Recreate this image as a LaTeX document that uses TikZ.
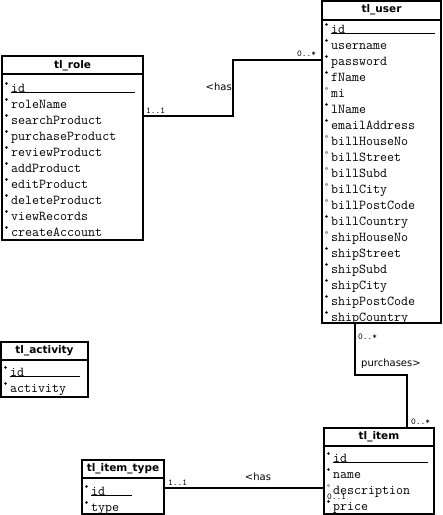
\documentclass[tikz,border=0pt]{standalone}
\usepackage{fontspec}
\setmainfont{DejaVu Sans}
\setmonofont{Latin Modern Mono}
\usetikzlibrary{calc}
\tikzset{
  tbl/.style={draw, line width=1.6pt, anchor=north west, inner sep=0pt, outer sep=0pt},
  ttl/.style={font=\bfseries\fontsize{10.5}{12}\selectfont, inner sep=0pt},
  hdr/.style={line width=1.6pt},
  attr/.style={font=\ttfamily\fontsize{13.6}{15}\selectfont, anchor=base west, inner sep=0pt},
  uline/.style={line width=0.8pt},
  conn/.style={line width=1.6pt},
  mult/.style={font=\ttfamily\fontsize{9}{10}\selectfont, anchor=base west, inner sep=0pt},
  rel/.style={font=\fontsize{10}{12}\selectfont, inner sep=0pt},
  req/.style={fill=black, draw=none},
  opt/.style={draw=gray, line width=0.5pt, fill=white},
}
% #1 name, #2 x (box left), #3 baseline y, #4 text, #5 req/opt
\newcommand\attrrow[5]{%
  \node[attr] (#1) at (#2+9,#3) {#4};
  \path[#5] (#2+4.5,#3-8.5) circle[radius=1.3pt];
}
\begin{document}
\begin{tikzpicture}[x=1pt,y=-1pt]
\useasboundingbox (0,0) rectangle (443,515);

% ---------- tl_role ----------
\node[tbl, minimum width=141pt, minimum height=184pt] (role) at (2,56) {};
\node[ttl] (roleT) at (72.5,65.5) {tl\_role};
\draw[hdr] (role.west |- 0,74) -- (role.east |- 0,74);
\attrrow{r1}{2}{92}{id}{req}
\draw[uline] (10.5,92.5) -- (135,92.5);
\attrrow{r2}{2}{108}{roleName}{req}
\attrrow{r3}{2}{124}{searchProduct}{req}
\attrrow{r4}{2}{140}{purchaseProduct}{req}
\attrrow{r5}{2}{156}{reviewProduct}{req}
\attrrow{r6}{2}{172}{addProduct}{req}
\attrrow{r7}{2}{188}{editProduct}{req}
\attrrow{r8}{2}{204}{deleteProduct}{req}
\attrrow{r9}{2}{220}{viewRecords}{req}
\attrrow{r10}{2}{236}{createAccount}{req}

% ---------- tl_user ----------
\node[tbl, minimum width=119pt, minimum height=322pt] (user) at (322,1) {};
\node[ttl] (userT) at (381.5,10) {tl\_user};
\draw[hdr] (user.west |- 0,20) -- (user.east |- 0,20);
\attrrow{u1}{322}{33}{id}{req}
\draw[uline] (331,33.5) -- (435,33.5);
\attrrow{u2}{322}{49}{username}{req}
\attrrow{u3}{322}{65}{password}{req}
\attrrow{u4}{322}{81}{fName}{req}
\attrrow{u5}{322}{97}{mi}{opt}
\attrrow{u6}{322}{113}{lName}{req}
\attrrow{u7}{322}{129}{emailAddress}{req}
\attrrow{u8}{322}{145}{billHouseNo}{opt}
\attrrow{u9}{322}{161}{billStreet}{opt}
\attrrow{u10}{322}{177}{billSubd}{opt}
\attrrow{u11}{322}{193}{billCity}{opt}
\attrrow{u12}{322}{209}{billPostCode}{opt}
\attrrow{u13}{322}{225}{billCountry}{req}
\attrrow{u14}{322}{241}{shipHouseNo}{opt}
\attrrow{u15}{322}{257}{shipStreet}{req}
\attrrow{u16}{322}{273}{shipSubd}{req}
\attrrow{u17}{322}{289}{shipCity}{req}
\attrrow{u18}{322}{305}{shipPostCode}{req}
\attrrow{u19}{322}{321}{shipCountry}{req}

% ---------- tl_activity ----------
\node[tbl, minimum width=87pt, minimum height=55pt] (act) at (1,342) {};
\node[ttl] (actT) at (44.5,351) {tl\_activity};
\draw[hdr] (act.west |- 0,360) -- (act.east |- 0,360);
\attrrow{a1}{1}{376}{id}{req}
\draw[uline] (9.5,376.5) -- (80,376.5);
\attrrow{a2}{1}{392}{activity}{req}

% ---------- tl_item ----------
\node[tbl, minimum width=110pt, minimum height=86pt] (item) at (324,428) {};
\node[ttl] (itemT) at (379,437) {tl\_item};
\draw[hdr] (item.west |- 0,446) -- (item.east |- 0,446);
\attrrow{i1}{324}{462}{id}{req}
\draw[uline] (333,462.5) -- (428,462.5);
\attrrow{i2}{324}{478}{name}{req}
\attrrow{i3}{324}{494}{description}{opt}
\attrrow{i4}{324}{510}{price}{req}

% ---------- tl_item_type ----------
\node[tbl, minimum width=82pt, minimum height=54pt] (itype) at (82,460) {};
\node[ttl] (itypeT) at (123,469) {tl\_item\_type};
\draw[hdr] (itype.west |- 0,478) -- (itype.east |- 0,478);
\attrrow{t1}{82}{495}{id}{req}
\draw[uline] (91,495.5) -- (132,495.5);
\attrrow{t2}{82}{511}{type}{req}

% ---------- connectors ----------
\coordinate (k1) at (233,116);
\coordinate (k2) at (233,60);
\draw[conn] (role.east |- k1) -- (k1) -- (k2) -- (user.west |- k2);
\node[mult] (m1) at (146,113) {1..1};
\node[mult] (m2) at (297,56) {0..*};
\node[rel, anchor=east] (lbl1) at (232,87) {<has};

\coordinate (k3) at (355,375);
\coordinate (k4) at (407,375);
\draw[conn] (user.south -| k3) -- (k3) -- (k4) -- (item.north -| k4);
\node[mult] (m3) at (358,339) {0..*};
\node[mult] (m4) at (411,424) {0..*};
\node[rel, anchor=west] (lbl2) at (361,364) {purchases>};

\coordinate (k5) at (200,488);
\draw[conn] (itype.east |- k5) -- (item.west |- k5);
\node[mult] (m5) at (168,485) {1..1};
\node[mult] (m6) at (327,499) {0..1};
\node[rel] (lbl3) at (258,477) {<has};
\end{tikzpicture}
\end{document}
